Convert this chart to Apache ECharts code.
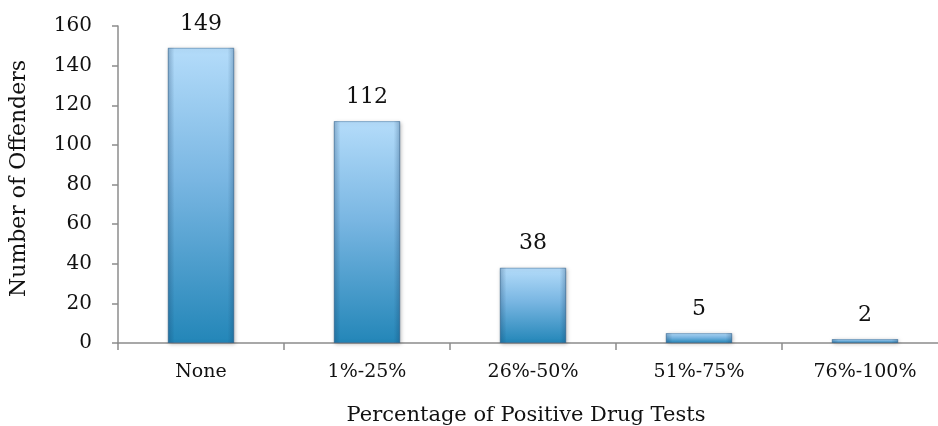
<!DOCTYPE html>
<html>
<head>
<meta charset="utf-8">
<style>
  html, body { margin: 0; padding: 0; background: #ffffff; }
  #chart { width: 938px; height: 426px; }
</style>
<script src="https://cdn.jsdelivr.net/npm/echarts@6/dist/echarts.min.js"></script>
</head>
<body>
<div id="chart"></div>
<script>
// Share of positive drug tests per offender
const categories = ['None', '1%-25%', '26%-50%', '51%-75%', '76%-100%'];
const offenders = [149, 112, 38, 5, 2];
const yTicks = { min: 0, max: 160, interval: 20 };

const fontFamily = '"DejaVu Serif", "Liberation Serif", serif';
const axisGray = '#8c8c8c';

const chart = echarts.init(document.getElementById('chart'), null, { renderer: 'canvas' });

chart.setOption({
  animation: false,
  grid: {
    left: 118, top: 26, bottom: 83, width: 830,
    containLabel: false, outerBoundsMode: 'none'
  },
  xAxis: {
    type: 'category',
    data: categories,
    name: 'Percentage of Positive Drug Tests',
    nameLocation: 'middle',
    nameGap: 62,
    nameTextStyle: { fontFamily, fontSize: 21, color: '#111', padding: [0, 14, 0, 0] },
    axisLine: { lineStyle: { color: axisGray, width: 1.5 } },
    axisTick: { show: true, length: 7, lineStyle: { color: axisGray, width: 1.5 } },
    axisLabel: { fontFamily, fontSize: 19, color: '#111', margin: 20 }
  },
  yAxis: {
    type: 'value',
    min: yTicks.min,
    max: yTicks.max,
    interval: yTicks.interval,
    name: 'Number of Offenders',
    nameLocation: 'middle',
    nameGap: 88,
    nameRotate: 90,
    nameTextStyle: { fontFamily, fontSize: 22, color: '#111', padding: [0, 0, 0, 12] },
    axisLine: { show: true, lineStyle: { color: axisGray, width: 1.5 } },
    axisTick: { show: true, length: 6, lineStyle: { color: axisGray, width: 1.5 } },
    axisLabel: { fontFamily, fontSize: 20, color: '#111', margin: 26 },
    splitLine: { show: false }
  },
  series: [{
    type: 'bar',
    data: offenders,
    barWidth: '40%',
    itemStyle: {
      color: {
        type: 'linear', x: 0, y: 0, x2: 0, y2: 1,
        colorStops: [
          { offset: 0, color: '#b4dcfa' },
          { offset: 0.45, color: '#79b6e2' },
          { offset: 1, color: '#2386b8' }
        ]
      },
      borderColor: 'rgba(40,100,150,0.45)',
      borderWidth: 1,
      shadowColor: 'rgba(0,0,0,0.25)',
      shadowBlur: 4,
      shadowOffsetX: 1,
      shadowOffsetY: 1
    },
    label: {
      show: true,
      position: 'top',
      distance: 13,
      fontFamily,
      fontSize: 22,
      color: '#111'
    }
  }, {
    // side shading that gives each bar its rounded edge look
    type: 'bar',
    data: offenders,
    barWidth: '40%',
    barGap: '-100%',
    silent: true,
    itemStyle: {
      color: {
        type: 'linear', x: 0, y: 0, x2: 1, y2: 0,
        colorStops: [
          { offset: 0, color: 'rgba(20,60,100,0.28)' },
          { offset: 0.1, color: 'rgba(20,60,100,0)' },
          { offset: 0.9, color: 'rgba(20,60,100,0)' },
          { offset: 1, color: 'rgba(20,60,100,0.28)' }
        ]
      }
    }
  }]
});
</script>
</body>
</html>
